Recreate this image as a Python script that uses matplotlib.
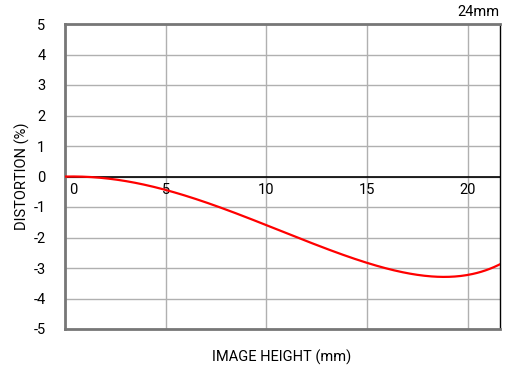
import numpy as np
import matplotlib.pyplot as plt

plt.rcParams['font.family'] = ['Roboto', 'DejaVu Sans']
plt.rcParams['axes.unicode_minus'] = False

height = [0, 1, 2, 3, 4, 5, 6, 7, 8, 9, 10, 11, 12, 13, 14, 15, 16, 17, 18, 19, 20, 21, 21.6]
distortion = [0, -0.01, -0.06, -0.16, -0.28, -0.42, -0.62, -0.85, -1.10, -1.35, -1.61, -1.86,
              -2.10, -2.35, -2.60, -2.85, -3.04, -3.17, -3.26, -3.29, -3.22, -3.05, -2.88]
xticks = [0, 5, 10, 15, 20]
yticks = [5, 4, 3, 2, 1, 0, -1, -2, -3, -4, -5]

# smooth the read-off points a bit for drawing
xs = np.linspace(0, 21.6, 300)
coef = np.polyfit(height, distortion, 6)
ys = np.polyval(coef, xs)

fig = plt.figure(figsize=(5.16, 3.70), dpi=100)
ax = fig.add_axes([65 / 516, 1 - 329 / 370, 435 / 516, 305 / 370])

ax.set_xlim(0, 21.6)
ax.set_ylim(-5, 5)
ax.set_xticks(xticks)
ax.set_yticks(yticks)
ax.grid(True, color='#b0b0b0', linewidth=1)
ax.tick_params(length=0, labelsize=10.5, colors='black')
ax.tick_params(axis='y', pad=14)
ax.set_xticklabels([])
ax.axhline(0, color='black', linewidth=1.2, zorder=2)

for t in xticks:
    if t == 0:
        ax.text(0.18, -0.22, str(t), ha='left', va='top', fontsize=10.5)
    else:
        ax.text(t, -0.22, str(t), ha='center', va='top', fontsize=10.5)

ax.plot(xs, ys, color='#ff0000', linewidth=1.6, zorder=3)

for s in ['left', 'bottom', 'top']:
    ax.spines[s].set_color('#777777')
    ax.spines[s].set_linewidth(2)
ax.spines['right'].set_color('black')
ax.spines['right'].set_linewidth(1)

fig.text(22 / 516, 1 - 176 / 370, 'DISTORTION (%)', rotation=90, ha='center', va='center', fontsize=10.5)
fig.text(282 / 516, 1 - 357 / 370, 'IMAGE HEIGHT (mm)', ha='center', va='center', fontsize=10.5)
fig.text(500 / 516, 1 - 12 / 370, '24mm', ha='right', va='center', fontsize=10.5)

fig.savefig('out.png', dpi=100)
